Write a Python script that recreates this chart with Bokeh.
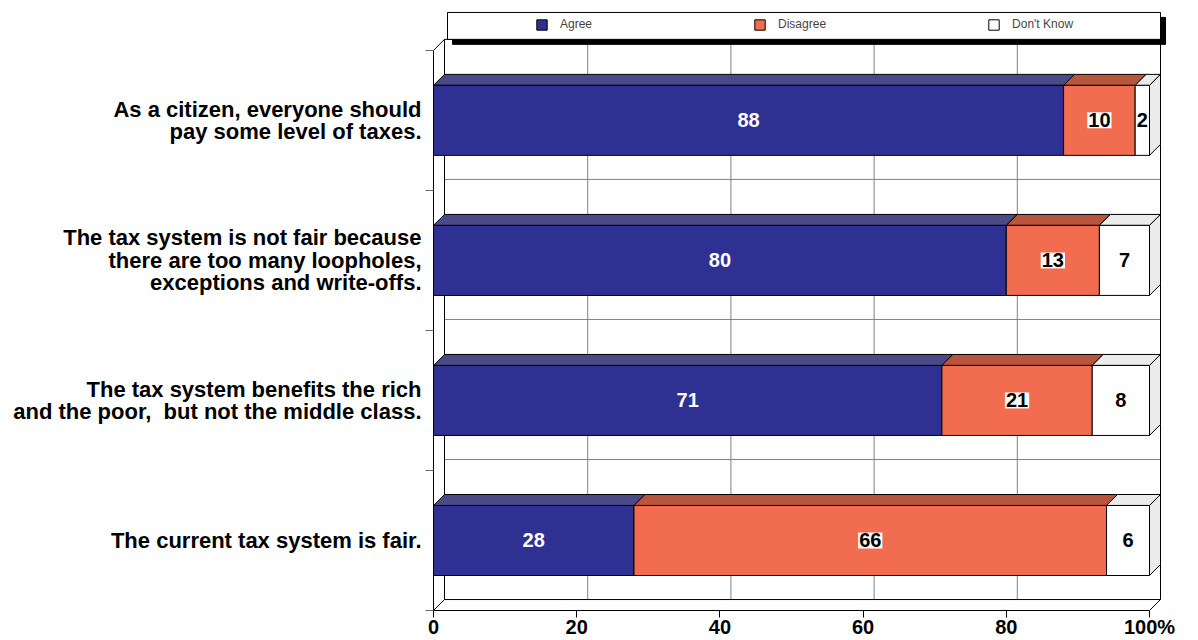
from bokeh.plotting import figure
from bokeh.models import ColumnDataSource, Range1d, FixedTicker, Legend, LegendItem
from bokeh.core.properties import value
from bokeh.embed import file_html
from bokeh.resources import INLINE

# ---------------- data ----------------
categories = [
    "As a citizen, everyone should\npay some level of taxes.",
    "The tax system is not fair because\nthere are too many loopholes,\nexceptions and write-offs.",
    "The tax system benefits the rich\nand the poor,\u00a0 but not the middle class.",
    "The current tax system is fair.",
]
agree = [88, 80, 71, 28]
disagree = [10, 13, 21, 66]
dont_know = [2, 7, 8, 6]
series_names = ["Agree", "Disagree", "Don't Know"]
x_ticks = [0, 20, 40, 60, 80, 100]
x_tick_labels = ["0", "20", "40", "60", "80", "100%"]

# ---------------- geometry ----------------
W, H = 1198, 640
LEFT, BOTTOM = 433, 612           # frame left / bottom in canvas px
PX_X = 7.16                       # px per percent
PX_Y = 140.5                      # px per category
DEPTH = 11                        # 3D depth in px
FONT_NAME = "Liberation Sans"
FONT = value(FONT_NAME)

n = len(categories)
ypos = [n - 1 - i for i in range(n)]
DX = DEPTH / PX_X
DY = DEPTH / PX_Y
BAR_H = 0.5
XMAX = 100


def X(px):
    return (px - LEFT) / PX_X


def Y(py):
    return -0.5 + (BOTTOM - py) / PX_Y


p = figure(width=W, height=H, output_backend="svg", toolbar_location=None,
           x_range=Range1d(0, (W - LEFT) / PX_X),
           y_range=Range1d(-0.5, -0.5 + BOTTOM / PX_Y),
           min_border_left=LEFT, min_border_right=0, min_border_top=0,
           min_border_bottom=0, title=None)
p.outline_line_color = None
p.grid.visible = False
p.background_fill_color = "white"
p.border_fill_color = "white"

# ---------------- back wall ----------------
grid_x = [t + DX for t in x_ticks[1:-1]]
p.segment(x0=grid_x, x1=grid_x, y0=[-0.5 + DY] * len(grid_x), y1=[n - 0.5 + DY] * len(grid_x),
          line_color="#808080", line_width=1)
grid_y = [k + 0.5 + DY for k in range(n - 1)]
p.segment(x0=[DX] * len(grid_y), x1=[XMAX + DX] * len(grid_y), y0=grid_y, y1=grid_y,
          line_color="#808080", line_width=1)
# wall / floor edges
wx0 = [DX, XMAX + DX, DX, DX, 0, XMAX, 0]
wy0 = [-0.5 + DY, -0.5 + DY, -0.5 + DY, n - 0.5 + DY, -0.5, -0.5, n - 0.5]
wx1 = [DX, XMAX + DX, XMAX + DX, XMAX + DX, DX, XMAX + DX, DX]
wy1 = [n - 0.5 + DY, n - 0.5 + DY, -0.5 + DY, n - 0.5 + DY, -0.5 + DY, -0.5 + DY, n - 0.5 + DY]
p.segment(x0=wx0, y0=wy0, x1=wx1, y1=wy1, line_color="black", line_width=1)

# ---------------- bars ----------------
front_colors = ["#2E3192", "#F26C4F", "#FFFFFF"]
top_colors = ["#4B4988", "#B8553C", "#EBEBEB"]
text_colors = ["white", "black", "black"]
series_vals = [agree, disagree, dont_know]

cum = [0] * n
renderers = []
label_sources = []
for s, vals in enumerate(series_vals):
    lefts = list(cum)
    rights = [l + v for l, v in zip(lefts, vals)]
    src = ColumnDataSource(dict(y=ypos, left=lefts, right=rights, v=vals,
                                xc=[(l + r) / 2 for l, r in zip(lefts, rights)],
                                txt=[str(v) for v in vals]))
    # top face
    txs = [[l, r, r + DX, l + DX] for l, r in zip(lefts, rights)]
    tys = [[y + BAR_H / 2, y + BAR_H / 2, y + BAR_H / 2 + DY, y + BAR_H / 2 + DY] for y in ypos]
    p.patches(xs=txs, ys=tys, fill_color=top_colors[s], line_color="black", line_width=1)
    r = p.hbar(y="y", left="left", right="right", height=BAR_H, source=src,
               fill_color=front_colors[s], line_color="black", line_width=1)
    renderers.append(r)
    label_sources.append(src)
    cum = rights

# right side face of the last segment
sxs = [[c, c + DX, c + DX, c] for c in cum]
sys_ = [[y - BAR_H / 2, y - BAR_H / 2 + DY, y + BAR_H / 2 + DY, y + BAR_H / 2] for y in ypos]
p.patches(xs=sxs, ys=sys_, fill_color="#EBEBEB", line_color="black", line_width=1)

# value labels
for s, src in enumerate(label_sources):
    kw = {}
    if s == 1:
        kw = dict(background_fill_color="white", padding=1)
    p.text(x="xc", y="y", text="txt", source=src, text_color=text_colors[s],
           text_font=FONT, text_font_style="bold", text_font_size="20px",
           text_align="center", text_baseline="middle", **kw)

# ---------------- legend box with shadow ----------------
p.quad(left=[X(452)], right=[X(1165)], top=[Y(17)], bottom=[Y(44)],
       fill_color="black", line_color="black")
p.quad(left=[X(447)], right=[X(1160)], top=[Y(12)], bottom=[Y(39)],
       fill_color="white", line_color="black", line_width=1)

legend = Legend(items=[LegendItem(label=nm, renderers=[r]) for nm, r in zip(series_names, renderers)],
                orientation="horizontal", location=(102, BOTTOM - 33),
                border_line_color=None, background_fill_alpha=0,
                padding=0, margin=0, spacing=161,
                glyph_width=13, glyph_height=13, label_height=13, label_standoff=12,
                label_text_font=FONT_NAME, label_text_font_size="12px")
p.add_layout(legend)

# ---------------- axes ----------------
xa = p.xaxis[0]
xa.ticker = FixedTicker(ticks=x_ticks)
xa.major_label_overrides = {t: lab for t, lab in zip(x_ticks, x_tick_labels)}
xa.bounds = (0, XMAX)
xa.major_tick_out = 7
xa.major_tick_in = 0
xa.minor_tick_line_color = None
xa.major_label_standoff = -2
xa.major_label_text_font = FONT_NAME
xa.major_label_text_font_style = "bold"
xa.major_label_text_font_size = "20px"
xa.major_label_text_color = "black"
xa.axis_line_color = "black"
xa.major_tick_line_color = "black"

ya = p.yaxis[0]
ya.ticker = FixedTicker(ticks=ypos, minor_ticks=[k - 0.5 for k in range(n + 1)])
ya.major_label_overrides = {y: c for y, c in zip(ypos, categories)}
ya.bounds = (-0.5, n - 0.5)
ya.major_tick_line_color = None
ya.major_tick_out = 0
ya.major_tick_in = 0
ya.minor_tick_out = 8
ya.minor_tick_in = 0
ya.minor_tick_line_color = "#666666"
ya.major_label_standoff = 4
ya.major_label_text_font = FONT_NAME
ya.major_label_text_font_style = "bold"
ya.major_label_text_font_size = "22px"
ya.major_label_text_line_height = 0.9
ya.major_label_text_color = "black"
ya.axis_line_color = "black"

open("out.html", "w").write(file_html(p, INLINE))
